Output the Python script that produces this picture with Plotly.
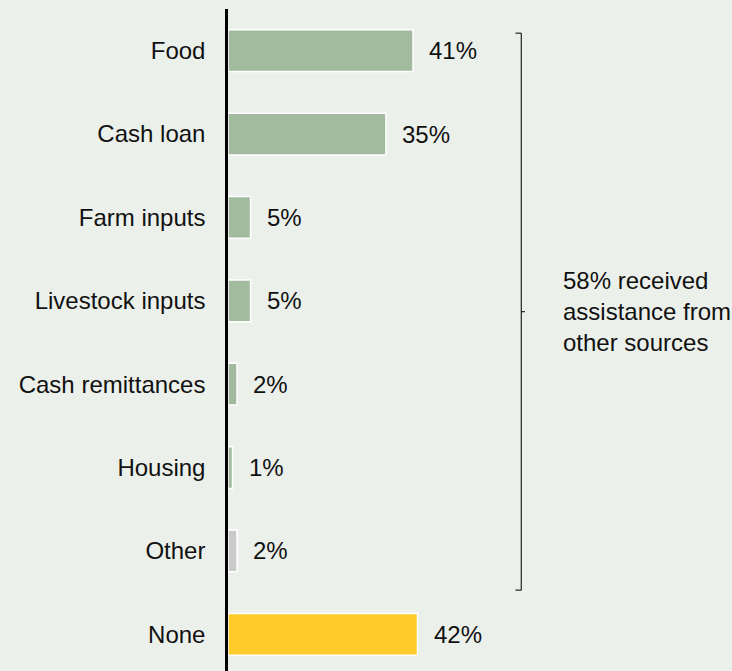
import plotly.graph_objects as go

# Types of assistance received (share of households, %)
categories = ["Food", "Cash loan", "Farm inputs", "Livestock inputs",
              "Cash remittances", "Housing", "Other", "None"]
values = [41, 35, 5, 5, 2, 1, 2, 42]
value_labels = ["41%", "35%", "5%", "5%", "2%", "1%", "2%", "42%"]
bracket_note = "58% received<br>assistance from<br>other sources"

GREEN = "#A2BB9F"
GREY = "#C9C9C9"
YELLOW = "#FFCB2B"
BG = "#ECF0EB"
INK = "#111111"
FONT = "Liberation Sans, Arial, sans-serif"
FS = 24

colors = [GREEN] * 6 + [GREY, YELLOW]

fig = go.Figure(
    go.Bar(
        x=values,
        y=categories,
        orientation="h",
        marker=dict(color=colors, line=dict(color="white", width=1.5)),
        width=0.5,
        hoverinfo="skip",
    )
)

# value labels to the right of each bar
for cat, v, lab in zip(categories, values, value_labels):
    fig.add_annotation(
        x=v, y=cat, text=lab, showarrow=False,
        xanchor="left", yanchor="middle", xshift=14,
        font=dict(size=FS, color=INK, family=FONT),
    )

# bracket grouping all assistance types except "None"
bx, btop, bbot, tick = 65.0, -0.21, 6.47, 1.3
bmid = (btop + bbot) / 2
line = dict(color="#222222", width=1.2)
fig.add_shape(type="line", x0=bx, x1=bx, y0=btop, y1=bbot, xref="x", yref="y", line=line)
fig.add_shape(type="line", x0=bx - tick, x1=bx, y0=btop, y1=btop, xref="x", yref="y", line=line)
fig.add_shape(type="line", x0=bx - tick, x1=bx, y0=bbot, y1=bbot, xref="x", yref="y", line=line)
fig.add_shape(type="line", x0=bx, x1=bx + 0.8, y0=bmid, y1=bmid, xref="x", yref="y", line=line)
fig.add_annotation(
    x=73.9, y=bmid, xref="x", yref="y", text=bracket_note, showarrow=False,
    xanchor="left", yanchor="middle", align="left",
    font=dict(size=FS, color=INK, family=FONT),
)

fig.update_layout(
    width=732, height=671,
    margin=dict(l=228, r=0, t=9, b=0),
    paper_bgcolor=BG, plot_bgcolor=BG,
    showlegend=False,
    font=dict(family=FONT, color=INK, size=FS),
    xaxis=dict(range=[0, 111.7], visible=False, fixedrange=True),
    yaxis=dict(
        type="category",
        categoryorder="array", categoryarray=categories,
        range=[7.44, -0.5],
        showline=True, linecolor="#000000", linewidth=2.5,
        showgrid=False, zeroline=False, ticks="",
        ticklabelstandoff=15,
        tickfont=dict(size=FS, color=INK, family=FONT),
        fixedrange=True,
    ),
)

fig.write_html("out.html")
